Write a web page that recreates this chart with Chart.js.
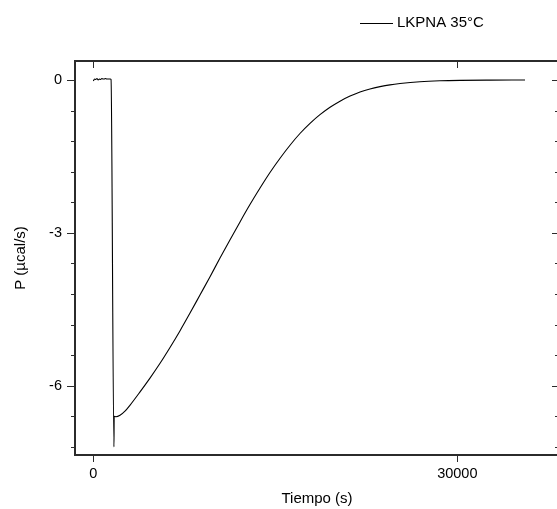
<!DOCTYPE html>
<html>
<head>
<meta charset="utf-8">
<title>LKPNA 35°C</title>
<script src="https://cdn.jsdelivr.net/npm/chart.js@4.4.1/dist/chart.umd.min.js"></script>
<style>
  html, body { margin: 0; padding: 0; background: #fff; overflow: hidden; }
  #wrap { width: 557px; height: 509px; overflow: hidden; }
  canvas { display: block; }
</style>
</head>
<body>
<div id="wrap"><canvas id="c" width="562" height="509"></canvas></div>
<script>
// Injection heat trace: time (s) and power (µcal/s)
const timeS = [
  0, 100, 200, 300, 400, 500, 600, 700, 800, 900, 1000, 1100, 1200, 1300, 1400, 1460,
  1700, 1720, 1870, 2200, 2610, 3030, 3850, 4670, 5500, 6320, 7150, 7970,
  8790, 9620, 10440, 11270, 12090, 12910, 13740, 14560, 15390, 16210, 17030,
  17860, 18680, 19510, 20330, 21160, 21980, 22800, 23630, 24450, 25280,
  26920, 28570, 30220, 32690, 35580
];
const powerUcal = [
  -0.02, 0.02, 0.01, 0.03, 0.0, 0.02, 0.01, 0.03, 0.02, 0.02, 0.03, 0.02, 0.02, 0.02, 0.02, 0.01,
  -7.2, -6.6, -6.61, -6.58, -6.50, -6.38, -6.12, -5.85, -5.56, -5.25, -4.92, -4.575,
  -4.22, -3.86, -3.495, -3.135, -2.785, -2.445, -2.12, -1.815, -1.535, -1.28, -1.05,
  -0.85, -0.68, -0.535, -0.415, -0.315, -0.235, -0.175, -0.13, -0.095, -0.07,
  -0.035, -0.016, -0.007, -0.002, 0.0
];

// Axis ticks
const xTicks = [0, 30000];
const yTicks = [0, -3, -6];
const yMinorTicks = [-0.6, -1.2, -1.8, -2.4, -3.6, -4.2, -4.8, -5.4, -6.6, -7.2];

const seriesLabel = 'LKPNA 35°C';
const fontFamily = "'Liberation Sans', Arial, sans-serif";
const axisColor = '#2b2b2b';

// Frame with outward ticks on left/bottom and inward ticks on top/right
const framePlugin = {
  id: 'frame',
  afterDraw(chart) {
    const { ctx, chartArea: a, scales } = chart;
    const x = scales.x, y = scales.y;
    ctx.save();
    ctx.strokeStyle = axisColor;
    ctx.lineWidth = 1;
    const py = v => Math.round(y.getPixelForValue(v)) + 0.5;
    const px = v => Math.round(x.getPixelForValue(v)) + 0.5;
    ctx.beginPath();
    yTicks.forEach(v => {
      const p = py(v);
      ctx.moveTo(a.left - 8, p); ctx.lineTo(a.left, p);
      ctx.moveTo(a.right, p); ctx.lineTo(a.right - 7, p);
    });
    yMinorTicks.forEach(v => {
      const p = py(v);
      ctx.moveTo(a.left - 4, p); ctx.lineTo(a.left, p);
      ctx.moveTo(a.right, p); ctx.lineTo(a.right - 4, p);
    });
    xTicks.forEach(v => {
      const p = px(v);
      ctx.moveTo(p, a.bottom); ctx.lineTo(p, a.bottom + 7);
      ctx.moveTo(p, a.top); ctx.lineTo(p, a.top + 7);
    });
    ctx.stroke();
    ctx.lineWidth = 2;
    ctx.strokeRect(a.left, a.top, a.right - a.left, a.bottom - a.top);
    ctx.restore();
  }
};

// Single-entry legend above the plot
const legendPlugin = {
  id: 'lineLegend',
  afterDraw(chart) {
    const ds = chart.data.datasets[0];
    const { ctx } = chart;
    ctx.save();
    ctx.strokeStyle = ds.borderColor;
    ctx.lineWidth = 1;
    ctx.beginPath();
    ctx.moveTo(360, 23.5); ctx.lineTo(393, 23.5);
    ctx.stroke();
    ctx.fillStyle = '#000';
    ctx.font = '15px ' + fontFamily;
    ctx.textBaseline = 'middle';
    ctx.textAlign = 'left';
    ctx.fillText(ds.label, 397, 23);
    ctx.restore();
  }
};

new Chart(document.getElementById('c'), {
  type: 'line',
  data: {
    datasets: [{
      label: seriesLabel,
      data: timeS.map((t, i) => ({ x: t, y: powerUcal[i] })),
      borderColor: '#000',
      borderWidth: 1.1,
      pointRadius: 0,
      fill: false,
      cubicInterpolationMode: 'monotone'
    }]
  },
  options: {
    responsive: false,
    animation: false,
    devicePixelRatio: 1,
    layout: { padding: { top: 61, right: 3, left: 0, bottom: 0 } },
    plugins: { legend: { display: false }, tooltip: { enabled: false } },
    scales: {
      x: {
        type: 'linear',
        min: -1510,
        max: 38380,
        grid: { display: false, drawTicks: false },
        border: { display: false },
        afterBuildTicks: s => { s.ticks = xTicks.map(v => ({ value: v })); },
        afterFit: s => { s.height = 54; },
        ticks: {
          color: '#000',
          padding: 10,
          maxRotation: 0,
          font: { family: fontFamily, size: 14.5 },
          callback: v => String(v)
        },
        title: {
          display: true,
          text: 'Tiempo (s)',
          color: '#000',
          font: { family: fontFamily, size: 15 },
          padding: { top: 0, bottom: 1 }
        }
      },
      y: {
        type: 'linear',
        min: -7.36,
        max: 0.373,
        grid: { display: false, drawTicks: false },
        border: { display: false },
        afterBuildTicks: s => { s.ticks = yTicks.map(v => ({ value: v })); },
        afterFit: s => { s.width = 75; },
        ticks: {
          color: '#000',
          padding: 13,
          font: { family: fontFamily, size: 14.5 },
          callback: v => String(v)
        },
        title: {
          display: true,
          text: 'P (µcal/s)',
          color: '#000',
          font: { family: fontFamily, size: 15 },
          padding: { top: 12, bottom: 0 }
        }
      }
    }
  },
  plugins: [framePlugin, legendPlugin]
});
</script>
</body>
</html>
